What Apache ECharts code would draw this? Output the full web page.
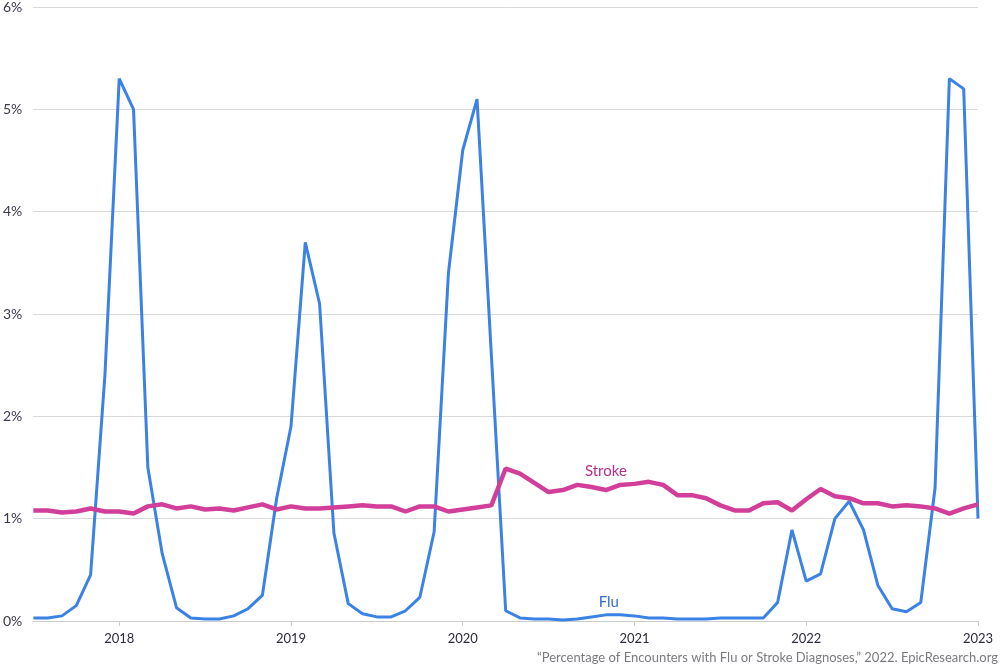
<!DOCTYPE html>
<html>
<head>
<meta charset="utf-8">
<title>Flu and Stroke encounters</title>
<script src="https://cdn.jsdelivr.net/npm/echarts@6/dist/echarts.min.js"></script>
<style>
    html, body { margin: 0; padding: 0; background: #fff; }
    #chart { width: 1000px; height: 667px; }
</style>
</head>
<body>
<div id="chart"></div>
<script>
// months, Jul 2017 .. Jan 2023
const months = [
    '2017-07', '2017-08', '2017-09', '2017-10', '2017-11', '2017-12',
    '2018-01', '2018-02', '2018-03', '2018-04', '2018-05', '2018-06',
    '2018-07', '2018-08', '2018-09', '2018-10', '2018-11', '2018-12',
    '2019-01', '2019-02', '2019-03', '2019-04', '2019-05', '2019-06',
    '2019-07', '2019-08', '2019-09', '2019-10', '2019-11', '2019-12',
    '2020-01', '2020-02', '2020-03', '2020-04', '2020-05', '2020-06',
    '2020-07', '2020-08', '2020-09', '2020-10', '2020-11', '2020-12',
    '2021-01', '2021-02', '2021-03', '2021-04', '2021-05', '2021-06',
    '2021-07', '2021-08', '2021-09', '2021-10', '2021-11', '2021-12',
    '2022-01', '2022-02', '2022-03', '2022-04', '2022-05', '2022-06',
    '2022-07', '2022-08', '2022-09', '2022-10', '2022-11', '2022-12',
    '2023-01'
];

// percent of encounters
const flu = [
    0.03, 0.03, 0.05, 0.15, 0.45, 2.40,
    5.30, 5.00, 1.50, 0.66, 0.13, 0.03,
    0.02, 0.02, 0.05, 0.12, 0.25, 1.20,
    1.90, 3.70, 3.10, 0.86, 0.17, 0.07,
    0.04, 0.04, 0.10, 0.23, 0.87, 3.40,
    4.60, 5.10, 2.60, 0.10, 0.03, 0.02,
    0.02, 0.01, 0.02, 0.04, 0.06, 0.06,
    0.05, 0.03, 0.03, 0.02, 0.02, 0.02,
    0.03, 0.03, 0.03, 0.03, 0.18, 0.89,
    0.39, 0.46, 1.00, 1.17, 0.89, 0.35,
    0.12, 0.09, 0.18, 1.30, 5.30, 5.20,
    1.00
];

const stroke = [
    1.08, 1.08, 1.06, 1.07, 1.10, 1.07,
    1.07, 1.05, 1.12, 1.14, 1.10, 1.12,
    1.09, 1.10, 1.08, 1.11, 1.14, 1.09,
    1.12, 1.10, 1.10, 1.11, 1.12, 1.13,
    1.12, 1.12, 1.07, 1.12, 1.12, 1.07,
    1.09, 1.11, 1.13, 1.49, 1.44, 1.35,
    1.26, 1.28, 1.33, 1.31, 1.28, 1.33,
    1.34, 1.36, 1.33, 1.23, 1.23, 1.20,
    1.13, 1.08, 1.08, 1.15, 1.16, 1.08,
    1.19, 1.29, 1.22, 1.20, 1.15, 1.15,
    1.12, 1.13, 1.12, 1.10, 1.05, 1.10,
    1.14
];

const yTicks = [0, 1, 2, 3, 4, 5, 6];
const LABEL_AT = 40; // Nov 2020, where the series names sit

const FONT = 'Lato, "Noto Sans", sans-serif';
const FLU_COLOR = '#3b82e6';
const STROKE_COLOR = '#d13f9a';

const isJanuary = (index, value) => value.endsWith('-01');

// series name written just above one of its points
const nameMark = (name, values, color, distance, offset) => ({
    silent: true,
    symbol: 'circle',
    symbolSize: 0,
    data: [{ coord: [months[LABEL_AT], values[LABEL_AT]] }],
    label: {
        show: true,
        formatter: name,
        position: 'top',
        distance: distance,
        offset: offset,
        color: color,
        fontFamily: FONT,
        fontSize: 15
    }
});

const chart = echarts.init(document.getElementById('chart'), null, { renderer: 'canvas' });
chart.setOption({
    animation: false,
    grid: {
        left: 32,
        right: 22,
        top: 6,
        bottom: 46
    },
    xAxis: {
        type: 'category',
        data: months,
        boundaryGap: false,
        axisLine: {
            lineStyle: { color: '#cccccc', width: 1 }
        },
        axisTick: {
            interval: isJanuary,
            length: 5,
            lineStyle: { color: '#cccccc' }
        },
        axisLabel: {
            interval: isJanuary,
            formatter: value => value.slice(0, 4),
            color: '#2b2b3d',
            fontFamily: FONT,
            fontSize: 13,
            margin: 11
        },
        splitLine: { show: false }
    },
    yAxis: {
        type: 'value',
        min: yTicks[0],
        max: yTicks[yTicks.length - 1],
        interval: 1,
        axisLine: { show: false },
        axisTick: { show: false },
        axisLabel: {
            formatter: '{value}%',
            color: '#3a3a4e',
            fontFamily: FONT,
            fontSize: 14,
            margin: 11
        },
        splitLine: {
            lineStyle: { color: '#d9d9d9', width: 1 }
        }
    },
    series: [
        {
            name: 'Flu',
            type: 'line',
            data: flu,
            symbol: 'none',
            lineStyle: { color: FLU_COLOR, width: 3 },
            itemStyle: { color: FLU_COLOR },
            markPoint: nameMark('Flu', flu, '#2f6fd4', 5, [3, 0]),
            z: 2
        },
        {
            name: 'Stroke',
            type: 'line',
            data: stroke,
            symbol: 'none',
            lineStyle: { color: STROKE_COLOR, width: 4.5 },
            itemStyle: { color: STROKE_COLOR },
            markPoint: nameMark('Stroke', stroke, '#b3318a', 11, [0, 0]),
            z: 3
        }
    ],
    graphic: [
        {
            type: 'text',
            right: 2,
            top: 651,
            style: {
                text: '\u201cPercentage of Encounters with Flu or Stroke Diagnoses,\u201d 2022. EpicResearch.org',
                fill: '#7a7a80',
                font: '13px ' + FONT
            }
        }
    ]
});
</script>
</body>
</html>
